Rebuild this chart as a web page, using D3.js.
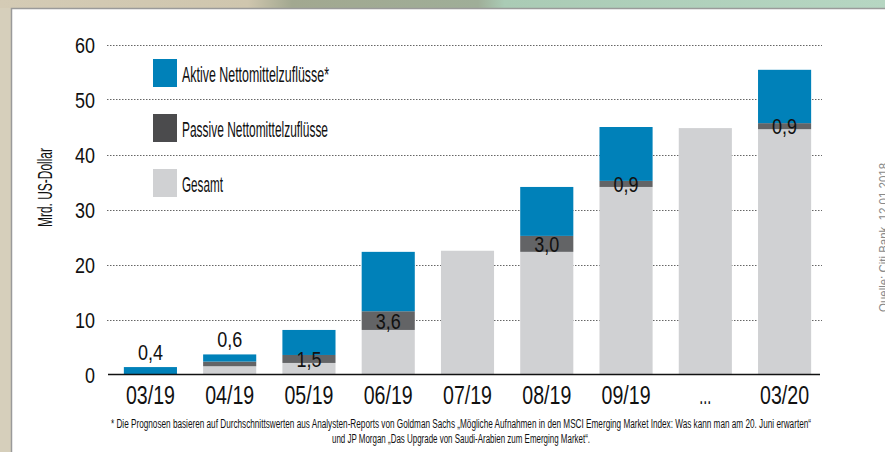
<!DOCTYPE html>
<html><head><meta charset="utf-8">
<script src="https://cdn.jsdelivr.net/npm/d3@7"></script>
<style>html,body{margin:0;padding:0;background:#fff}svg{display:block}</style>
</head><body>
<svg id="c" width="885" height="452"></svg>
<script>
// ---- data ----
const categories = ["03/19","04/19","05/19","06/19","07/19","08/19","09/19","...","03/20"];
const gesamt  = [0, 1.5, 2.1, 8.1, 22.5, 22.3, 34.1, 44.8, 44.6];
const passive = [0, 0.85, 1.45, 3.4, 0, 2.9, 1.1, 0, 1.1];
const active  = [1.35, 1.3, 4.55, 10.8, 0, 8.9, 9.8, 0, 9.7];
const passiveLabels = ["0,4","0,6","1,5","3,6","","3,0","0,9","","0,9"];
const yTicks = [0,10,20,30,40,50,60];
const seriesNames = ["Aktive Nettomittelzuflüsse*","Passive Nettomittelzuflüsse","Gesamt"];
const yTitle = "Mrd. US-Dollar";
const source = "Quelle: Citi Bank, 12.01.2018";
const footnote = ["* Die Prognosen basieren auf Durchschnittswerten aus Analysten-Reports von Goldman Sachs „Mögliche Aufnahmen in den MSCI Emerging Market Index: Was kann man am 20. Juni erwarten“",
                  "und JP Morgan „Das Upgrade von Saudi-Arabien zum Emerging Market“."];

// ---- styles ----
const FONT = "'Liberation Sans Narrow','Liberation Sans',Arial,sans-serif";
const cBlue = "#0081b9", cDark = "#636466", cDarkLegend = "#4b4b4d", cGray = "#d0d1d3";

const svg = d3.select("#c");
const fit = (sel, w) => sel.attr("textLength", w).attr("lengthAdjust", "spacingAndGlyphs");

// background frame
const defs = svg.append("defs");
const g1 = defs.append("linearGradient").attr("id","topg").attr("x1","0").attr("x2","1").attr("y1","0").attr("y2","0");
[[0,"#d4cbb5"],[0.28,"#cfc6ae"],[0.33,"#a2a890"],[0.54,"#9fae98"],[0.57,"#aacbb5"],[1,"#b6d6c2"]].forEach(s=>g1.append("stop").attr("offset",s[0]).attr("stop-color",s[1]));
svg.append("rect").attr("x",0).attr("y",0).attr("width",885).attr("height",452).attr("fill","#d6cfbb");
svg.append("rect").attr("x",0).attr("y",0).attr("width",885).attr("height",8).attr("fill","url(#topg)");
svg.append("rect").attr("x",11.5).attr("y",8.5).attr("width",880).attr("height",450).attr("fill","#fff").attr("stroke","#9a9a9a").attr("stroke-width",1.5);

// scales
const x = d3.scaleBand().domain(categories).range([108, 827]).paddingInner(0.33).paddingOuter(0.2);
const y = d3.scaleLinear().domain([0, 60]).range([374.5, 44.5]);

// gridlines
svg.append("g").selectAll("line").data(yTicks.filter(d => d > 0)).join("line")
  .attr("x1", 107).attr("x2", 822)
  .attr("y1", d => Math.round(y(d)) + 0.5).attr("y2", d => Math.round(y(d)) + 0.5)
  .attr("stroke", "#666").attr("stroke-width", 1).attr("stroke-dasharray", "1.5,1.5");

// stacked bars
const rows = categories.map((c, i) => ({c, g: gesamt[i], p: passive[i], a: active[i], lab: passiveLabels[i]}));
const bars = svg.append("g");
rows.forEach(r => {
  const segs = [[0, r.g, cGray], [r.g, r.g + r.p, cDark], [r.g + r.p, r.g + r.p + r.a, cBlue]];
  segs.forEach(([s, e, col]) => {
    if (e - s <= 0) return;
    bars.append("rect").attr("x", x(r.c)).attr("width", x.bandwidth())
      .attr("y", y(e)).attr("height", y(s) - y(e)).attr("fill", col);
  });
});

// baseline
svg.append("line").attr("x1", 108).attr("x2", 820).attr("y1", y(0)).attr("y2", y(0))
  .attr("stroke", "#111").attr("stroke-width", 1.5);

// value labels
svg.append("g").selectAll("text").data(rows.filter(r => r.lab)).join("text")
  .attr("x", r => x(r.c) + x.bandwidth() / 2)
  .attr("y", r => {
    const total = r.g + r.p + r.a;
    if (total < 5) return y(total) - 7;
    return (y(r.g) + y(r.g + r.p)) / 2 + 8;
  })
  .attr("text-anchor", "middle").attr("font-family", FONT).attr("font-size", 22).attr("fill", "#111")
  .text(r => r.lab)
  .attr("textLength", 25).attr("lengthAdjust", "spacingAndGlyphs");

// y axis
const yAxis = svg.append("g").attr("transform", "translate(95,0)")
  .call(d3.axisLeft(y).tickValues(yTicks).tickSize(0).tickPadding(0).tickFormat(d3.format("d")));
yAxis.select(".domain").remove();
yAxis.selectAll("text").attr("font-family", FONT).attr("font-size", 22).attr("fill", "#111").attr("dy", "0.36em")
  .attr("textLength", d => String(d).length * 10).attr("lengthAdjust", "spacingAndGlyphs");

// x axis
const xAxis = svg.append("g").attr("transform", `translate(0,${y(0)})`)
  .call(d3.axisBottom(x).tickSize(0).tickPadding(0));
xAxis.select(".domain").remove();
xAxis.selectAll("text").attr("font-family", FONT).attr("font-size", 25).attr("fill", "#111").attr("dy", 0).attr("y", 29.5)
  .attr("textLength", d => d === "..." ? 12 : 49).attr("lengthAdjust", "spacingAndGlyphs");

// legend
const legColors = [cBlue, cDarkLegend, cGray];
const leg = svg.append("g");
seriesNames.forEach((n, i) => {
  leg.append("rect").attr("x", 153).attr("y", 59 + i * 55).attr("width", 24).attr("height", 28).attr("fill", legColors[i]);
  const t = leg.append("text").attr("x", 182).attr("y", 81.5 + i * 55).attr("font-family", FONT).attr("font-size", 21.5).attr("fill", "#111").text(n);
  fit(t, [147, 146, 41][i]);
});

// y title
fit(svg.append("text").attr("transform", "translate(52,187.5) rotate(-90)").attr("text-anchor", "middle")
  .attr("font-family", FONT).attr("font-size", 20).attr("fill", "#111").text(yTitle), 79);

// source
fit(svg.append("text").attr("transform", "translate(888,312) rotate(-90)").attr("text-anchor", "start")
  .attr("font-family", FONT).attr("font-size", 13).attr("fill", "#8a8a8a").text(source), 149);

// footnote
fit(svg.append("text").attr("x", 461).attr("y", 428).attr("text-anchor", "middle")
  .attr("font-family", FONT).attr("font-size", 12).attr("fill", "#111").text(footnote[0]), 700);
fit(svg.append("text").attr("x", 461).attr("y", 443).attr("text-anchor", "middle")
  .attr("font-family", FONT).attr("font-size", 12).attr("fill", "#111").text(footnote[1]), 258);
</script>
</body></html>
